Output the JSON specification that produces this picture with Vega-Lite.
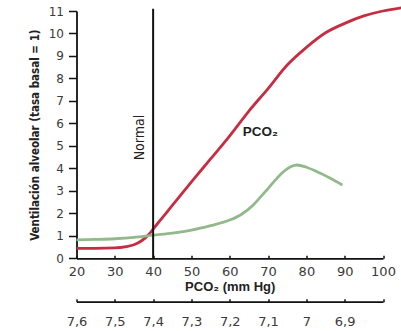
{
  "$schema": "https://vega.github.io/schema/vega-lite/v6.json",
  "width": 306.5,
  "height": 247.3,
  "autosize": "none",
  "padding": {"left": 76.5, "top": 11, "right": 18, "bottom": 72.7},
  "background": "white",
  "config": {"view": {"stroke": null}, "font": "DejaVu Sans"},
  "datasets": {
    "curves": [
      {"series": "PCO2", "pco2": 20, "ventilation": 0.44},
      {"series": "PCO2", "pco2": 25, "ventilation": 0.44},
      {"series": "PCO2", "pco2": 30, "ventilation": 0.46},
      {"series": "PCO2", "pco2": 33, "ventilation": 0.52},
      {"series": "PCO2", "pco2": 35, "ventilation": 0.6},
      {"series": "PCO2", "pco2": 37, "ventilation": 0.78},
      {"series": "PCO2", "pco2": 39, "ventilation": 1.08},
      {"series": "PCO2", "pco2": 40, "ventilation": 1.3},
      {"series": "PCO2", "pco2": 42, "ventilation": 1.72},
      {"series": "PCO2", "pco2": 45, "ventilation": 2.35},
      {"series": "PCO2", "pco2": 50, "ventilation": 3.4},
      {"series": "PCO2", "pco2": 55, "ventilation": 4.42},
      {"series": "PCO2", "pco2": 60, "ventilation": 5.45},
      {"series": "PCO2", "pco2": 65, "ventilation": 6.55},
      {"series": "PCO2", "pco2": 70, "ventilation": 7.55},
      {"series": "PCO2", "pco2": 75, "ventilation": 8.6},
      {"series": "PCO2", "pco2": 80, "ventilation": 9.38},
      {"series": "PCO2", "pco2": 85, "ventilation": 10.03},
      {"series": "PCO2", "pco2": 90, "ventilation": 10.45},
      {"series": "PCO2", "pco2": 95, "ventilation": 10.78},
      {"series": "PCO2", "pco2": 100, "ventilation": 11.0},
      {"series": "PCO2", "pco2": 105, "ventilation": 11.15},
      {"series": "pH", "pco2": 20, "ventilation": 0.82},
      {"series": "pH", "pco2": 25, "ventilation": 0.84},
      {"series": "pH", "pco2": 30, "ventilation": 0.87},
      {"series": "pH", "pco2": 35, "ventilation": 0.93},
      {"series": "pH", "pco2": 40, "ventilation": 1.03},
      {"series": "pH", "pco2": 45, "ventilation": 1.12},
      {"series": "pH", "pco2": 50, "ventilation": 1.25},
      {"series": "pH", "pco2": 55, "ventilation": 1.45},
      {"series": "pH", "pco2": 60, "ventilation": 1.7},
      {"series": "pH", "pco2": 63, "ventilation": 1.95},
      {"series": "pH", "pco2": 66, "ventilation": 2.35},
      {"series": "pH", "pco2": 68, "ventilation": 2.72},
      {"series": "pH", "pco2": 70, "ventilation": 3.1},
      {"series": "pH", "pco2": 72, "ventilation": 3.5},
      {"series": "pH", "pco2": 74, "ventilation": 3.85},
      {"series": "pH", "pco2": 76, "ventilation": 4.08},
      {"series": "pH", "pco2": 77.6, "ventilation": 4.15},
      {"series": "pH", "pco2": 80, "ventilation": 4.05},
      {"series": "pH", "pco2": 83.7, "ventilation": 3.78},
      {"series": "pH", "pco2": 86, "ventilation": 3.58},
      {"series": "pH", "pco2": 89.4, "ventilation": 3.26}
    ],
    "normal": [
      {"pco2": 40, "bottom": 0, "top": 11.1}
    ],
    "notes": [
      {"label": "Normal", "pco2": 36.6, "ventilation": 5.37},
      {"label": "PCO₂", "pco2": 68, "ventilation": 5.63}
    ]
  },
  "layer": [
    {
      "data": {"name": "curves"},
      "mark": {"type": "line", "interpolate": "monotone", "strokeWidth": 2.8, "clip": false},
      "encoding": {
        "x": {
          "field": "pco2", "type": "quantitative",
          "scale": {"domain": [20, 100], "nice": false, "zero": false},
          "axis": {
            "values": [20, 30, 40, 50, 60, 70, 80, 90, 100],
            "grid": false, "tickSize": -3, "labelPadding": 10, "labelFlush": false,
            "domainColor": "#111", "domainWidth": 1.8, "tickColor": "#111", "tickWidth": 1.5,
            "labelFont": "DejaVu Sans", "labelFontSize": 13, "labelColor": "#3a3a3a",
            "title": "PCO₂ (mm Hg)", "titleFont": "Liberation Sans", "titleFontSize": 13,
            "titleFontWeight": "bold", "titleColor": "#222", "titlePadding": 2
          }
        },
        "y": {
          "field": "ventilation", "type": "quantitative",
          "scale": {"domain": [0, 11], "nice": false},
          "axis": {
            "values": [0, 1, 2, 3, 4, 5, 6, 7, 8, 9, 10, 11],
            "grid": false, "tickSize": 8, "labelPadding": 5, "labelFlush": false,
            "domainColor": "#111", "domainWidth": 1.8, "tickColor": "#111", "tickWidth": 1.5,
            "labelFont": "DejaVu Sans", "labelFontSize": 12, "labelColor": "#3a3a3a",
            "title": "Ventilación alveolar (tasa basal = 1)", "titleFont": "DejaVu Sans Condensed, Liberation Sans, sans-serif",
            "titleFontSize": 11.5, "titleFontWeight": "bold", "titleColor": "#222", "titlePadding": 8
          }
        },
        "color": {
          "field": "series", "type": "nominal",
          "scale": {"domain": ["pH", "PCO2"], "range": ["#92b98a", "#c62d42"]},
          "legend": null
        }
      }
    },
    {
      "data": {"name": "normal"},
      "mark": {"type": "rule", "color": "#111", "strokeWidth": 2, "clip": false},
      "encoding": {
        "x": {"field": "pco2", "type": "quantitative", "axis": null},
        "y": {"field": "bottom", "type": "quantitative", "axis": null},
        "y2": {"field": "top"}
      }
    },
    {
      "data": {"name": "notes"},
      "transform": [{"filter": "datum.label == 'Normal'"}],
      "mark": {"type": "text", "angle": 270, "align": "center", "baseline": "middle", "font": "DejaVu Sans Condensed, Liberation Sans, sans-serif", "fontSize": 14, "color": "#222"},
      "encoding": {
        "x": {"field": "pco2", "type": "quantitative", "axis": null},
        "y": {"field": "ventilation", "type": "quantitative", "axis": null},
        "text": {"field": "label"}
      }
    },
    {
      "data": {"name": "notes"},
      "transform": [{"filter": "datum.label != 'Normal'"}],
      "mark": {"type": "text", "align": "center", "baseline": "middle", "font": "Liberation Sans", "fontSize": 13.5, "fontWeight": "bold", "color": "#222"},
      "encoding": {
        "x": {"field": "pco2", "type": "quantitative", "axis": null},
        "y": {"field": "ventilation", "type": "quantitative", "axis": null},
        "text": {"field": "label"}
      }
    },
    {
      "data": {"name": "curves"},
      "mark": {"type": "point", "opacity": 0},
      "encoding": {
        "x": {
          "field": "pco2", "type": "quantitative",
          "axis": {
            "orient": "bottom", "offset": 43.4,
            "values": [20, 30, 40, 50, 60, 70, 80, 90, 100],
            "labelExpr": "['7,6','7,5','7,4','7,3','7,2','7,1','7','6,9',''][round((datum.value-20)/10)]",
            "grid": false, "tickSize": -3, "labelPadding": 16.5, "labelFlush": false,
            "domainColor": "#111", "domainWidth": 1.8, "tickColor": "#111", "tickWidth": 1.5,
            "labelFont": "DejaVu Sans", "labelFontSize": 13, "labelColor": "#3a3a3a",
            "title": "pH", "titleFont": "Liberation Sans", "titleFontSize": 13,
            "titleFontWeight": "bold", "titleColor": "#222", "titlePadding": 2
          }
        },
        "y": {"field": "ventilation", "type": "quantitative", "axis": null}
      }
    }
  ],
  "resolve": {"axis": {"x": "independent", "y": "independent"}}
}
